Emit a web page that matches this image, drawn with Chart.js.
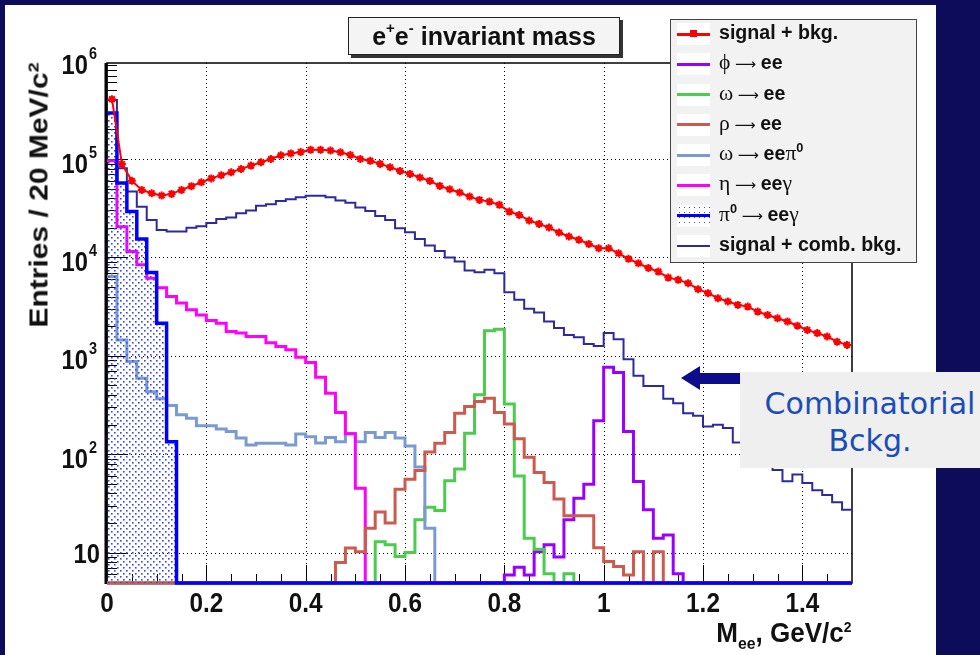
<!DOCTYPE html>
<html>
<head>
<meta charset="utf-8">
<script src="https://cdn.jsdelivr.net/npm/chart.js@4.4.1/dist/chart.umd.min.js"></script>
<style>
  html, body { margin: 0; padding: 0; }
  body { width: 980px; height: 655px; background: #0c0c5a; position: relative; overflow: hidden;
         font-family: 'Liberation Sans', Arial, sans-serif; }
  #panel { position: absolute; left: 5px; top: 5px; width: 931px; height: 650px; background: #fff; }
  #chart { position: absolute; left: 0; top: 0; }
  #title { position: absolute; left: 348px; top: 17px; width: 272px; height: 38px; box-sizing: border-box;
           background: #f4f4f4; border: 1px solid #222; box-shadow: 3px 3px 0 #333;
           font-weight: bold; font-size: 25px; line-height: 36px; text-align: center; color: #111; }
  #title sup { font-size: 15px; line-height: 0; position: relative; top: -3px; vertical-align: super; }
  #legend { position: absolute; left: 670px; top: 19px; width: 247px; height: 244px; box-sizing: border-box;
            background: #f2f2f2; border: 1.5px solid #444; }
  .row { position: relative; height: 30.3px; }
  .sample { position: absolute; left: 6px; top: 3px; width: 33px; height: 22px; background: #fff; }
  .sample .ln { position: absolute; left: 0; right: 0; top: 50%; }
  .lab { position: absolute; left: 48px; top: -3px; line-height: 30px; white-space: nowrap;
         font-weight: bold; font-size: 20px; color: #111; transform: scaleX(0.98); transform-origin: left center; }
  .gr { font-family: 'Liberation Serif', 'DejaVu Serif', serif; font-weight: normal; font-size: 22px; }
  .ar { font-family: 'DejaVu Sans', sans-serif; font-weight: normal; font-size: 15px; }
  .lab sup { font-size: 13px; line-height: 0; }
  #ytitle { position: absolute; left: 39px; top: 195px; white-space: nowrap; font-weight: bold; font-size: 25px; color: #111;
            transform: translate(-50%, -50%) rotate(-90deg) scaleX(1.2); }
  #ytitle sup, #xtitle sup { font-size: 15px; line-height: 0; }
  #xtitle { position: absolute; right: 128px; top: 617px; white-space: nowrap; font-weight: bold; font-size: 28px; color: #111;
            transform: scaleX(0.93); transform-origin: right center; }
  #xtitle sub { font-size: 17px; line-height: 0; }
  #arrow { position: absolute; left: 678px; top: 362px; }
  #note { position: absolute; left: 740px; top: 372px; width: 260px; height: 96px; background: #efefef;
          font-family: 'DejaVu Sans', sans-serif; font-size: 30px; line-height: 37px; color: #1a4db8;
          text-align: center; padding-top: 13px; box-sizing: border-box; }
</style>
</head>
<body>
<div id="panel"></div>
<canvas id="chart" width="980" height="655"></canvas>
<div id="title">e<sup>+</sup>e<sup>-</sup> invariant mass</div>
<div id="legend"></div>
<div id="ytitle">Entries / 20 MeV/c<sup>2</sup></div>
<div id="xtitle">M<sub>ee</sub>, GeV/c<sup>2</sup></div>
<svg id="arrow" width="64" height="32"><polygon points="3,16 22,4 22,11 62,11 62,22 22,22 22,28" fill="#0d0d8c"/></svg>
<div id="note">Combinatorial<br>Bckg.</div>
<script>
var BIN_WIDTH = 0.02;   // 20 MeV/c2
var N_BINS = 75;        // 0 .. 1.5 GeV/c2
var Y_MIN = 4.9;
var Y_MAX = 9.46e5;

// signal + bkg. (red markers), one value per bin
var signalBkg = [4.06e5, 8.9e4, 6.0e4, 4.85e4, 4.49e4, 4.25e4, 4.42e4, 4.85e4, 5.3e4, 5.8e4,
  6.35e4, 6.85e4, 7.34e4, 7.93e4, 8.57e4, 9.28e4, 1.0e5, 1.09e5, 1.14e5, 1.18e5,
  1.24e5, 1.24e5, 1.22e5, 1.17e5, 1.10e5, 1.0e5, 9.58e4, 8.92e4, 8.26e4, 7.57e4,
  7.06e4, 6.48e4, 5.99e4, 5.33e4, 4.93e4, 4.56e4, 4.15e4, 3.84e4, 3.69e4, 3.42e4,
  2.92e4, 2.70e4, 2.37e4, 2.19e4, 2.01e4, 1.79e4, 1.63e4, 1.51e4, 1.37e4, 1.24e4,
  1.24e4, 1.10e4, 9660, 8700, 7800, 7170, 6230, 5910, 5470, 4750,
  4330, 3850, 3560, 3290, 3160, 2810, 2600, 2410, 2230, 2020,
  1830, 1700, 1570, 1390, 1290];

// signal + comb. bkg. (thin navy histogram)
var signalComb = [3.98e5, 8.05e4, 4.67e4, 3.28e4, 2.40e4, 1.90e4, 1.83e4, 1.83e4, 2.0e4, 2.07e4,
  2.23e4, 2.46e4, 2.54e4, 2.81e4, 2.99e4, 3.34e4, 3.47e4, 3.75e4, 3.90e4, 4.09e4,
  4.22e4, 4.22e4, 4.09e4, 3.78e4, 3.60e4, 3.21e4, 2.97e4, 2.64e4, 2.40e4, 1.98e4,
  1.80e4, 1.54e4, 1.32e4, 1.16e4, 9950, 9060, 7340, 7070, 7470, 6900,
  4430, 3700, 3000, 2750, 2230, 1910, 1630, 1540, 1320, 1260,
  1700, 1470, 923, 625, 494, 494, 365, 330, 261, 245,
  191, 199, 184, 131, 116, 98, 87, 69, 53, 62,
  51, 43, 38.5, 32.5, 27.2];

// single channels: first non-empty bin + bin contents (empty elsewhere)
var pi0Start = 0;
var pi0Values = [2.93e5, 5.7e4, 2.92e4, 1.54e4, 7000, 2140, 134];
var etaStart = 0;
var etaValues = [9.6e4, 2.05e4, 1.15e4, 8400, 6150, 4900, 4000, 3430, 2930, 2600,
  2280, 2140, 1760, 1700, 1570, 1570, 1360, 1240, 1150, 968,
  853, 606, 417, 265, 161, 45];
var omegaDalitzStart = 0;
var omegaDalitzValues = [6400, 1450, 873, 592, 432, 365, 313, 251, 232, 194,
  194, 180, 170, 146, 124, 129, 129, 129, 124, 160,
  150, 130, 148, 134, 162, 134, 166, 148, 166, 146,
  121, 74, 17.7];
var omegaStart = 27;
var omegaValues = [12.9, 12.0, 9.1, 10.0, 21.5, 28.9, 26.7, 53.6, 70.5, 163,
  401, 1800, 1860, 324, 60, 14.0, 10.8, 6.1, 0, 6.1];
var rhoStart = 23;
var rhoValues = [7.9, 11.1, 10.2, 17.7, 25.8, 19.9, 44, 55.7, 68, 105,
  129, 166, 261, 305, 343, 371, 265, 202, 143, 93,
  65, 51.4, 34.9, 23.6, 23.6, 23.6, 11.2, 8.1, 7.2, 5.9,
  10.2, 0, 10.2];
var phiStart = 40;
var phiValues = [5.9, 7.1, 5.9, 10.2, 12.0, 9.0, 21.5, 35.7, 49.5, 219,
  766, 675, 170, 52.7, 27.2, 14, 15.1, 6.1];

var xTickValues = [0, 0.2, 0.4, 0.6, 0.8, 1.0, 1.2, 1.4];
var xTickLabels = ['0', '0.2', '0.4', '0.6', '0.8', '1', '1.2', '1.4'];
var yTickValues = [10, 1e2, 1e3, 1e4, 1e5, 1e6];
var yTickExponents = ['', '2', '3', '4', '5', '6'];

function fullBins(start, values) {
  var out = [];
  for (var i = 0; i < N_BINS; i++) {
    var v = values[i - start];
    out.push(v === undefined ? 0 : v);
  }
  return out;
}

// bin edges for a stepped line; empty bins sit on the bottom of the log axis
function histPoints(bins) {
  var pts = bins.map(function(v, i) {
    return { x: BIN_WIDTH * i, y: v > 0 ? v : Y_MIN };
  });
  pts.push({ x: BIN_WIDTH * bins.length, y: pts[pts.length - 1].y });
  return pts;
}

var ctx = document.getElementById('chart').getContext('2d');

var tile = document.createElement('canvas');
tile.width = 6; tile.height = 6;
var tctx = tile.getContext('2d');
tctx.fillStyle = '#3344ff';
tctx.fillRect(0, 0, 1.6, 1.6);
tctx.fillRect(3, 3, 1.6, 1.6);
var dots = ctx.createPattern(tile, 'repeat');

function hist(label, bins, color, width, order) {
  return {
    label: label, data: histPoints(bins), stepped: 'before',
    borderColor: color, borderWidth: width, pointRadius: 0, fill: false,
    clip: 6, order: order
  };
}

var pi0Set = hist('pi0', fullBins(pi0Start, pi0Values), '#0000ff', 3.5, 1);
pi0Set.fill = 'start';
pi0Set.backgroundColor = dots;

var datasets = [
  {
    label: 'signal + bkg.',
    data: signalBkg.map(function(v, i) { return { x: BIN_WIDTH * (i + 0.5), y: v }; }),
    borderColor: '#ff0000', backgroundColor: '#ff0000', borderWidth: 2,
    pointStyle: 'star', pointRadius: 4, pointBorderWidth: 2, clip: 6, order: 0
  },
  pi0Set,
  hist('comb', signalComb, '#2b2b9e', 2, 2),
  hist('rho', fullBins(rhoStart, rhoValues), '#cc5a4e', 3, 3),
  hist('eta', fullBins(etaStart, etaValues), '#ff00ff', 3, 4),
  hist('omegaDalitz', fullBins(omegaDalitzStart, omegaDalitzValues), '#7a9bd2', 3, 5),
  hist('omega', fullBins(omegaStart, omegaValues), '#4ccc4c', 3, 6),
  hist('phi', fullBins(phiStart, phiValues), '#9a00ff', 3, 7)
];

function isMultiple(v, step) {
  return Math.abs(v / step - Math.round(v / step)) < 1e-6;
}

function line(c, x1, y1, x2, y2) {
  c.beginPath(); c.moveTo(x1, y1); c.lineTo(x2, y2); c.stroke();
}

function narrowText(c, text, x, y, sx) {
  c.save(); c.translate(x, y); c.scale(sx, 1); c.fillText(text, 0, 0); c.restore();
}

var rootAxes = {
  id: 'rootAxes',
  beforeDatasetsDraw: function(chart) {
    var c = chart.ctx, a = chart.chartArea, xs = chart.scales.x, ys = chart.scales.y;
    c.save();
    c.strokeStyle = '#000';
    c.lineWidth = 1;
    c.setLineDash([1, 3]);
    xTickValues.forEach(function(v) {
      if (v <= 0) return;
      var px = Math.round(xs.getPixelForValue(v)) + 0.5;
      line(c, px, a.top, px, a.bottom);
    });
    yTickValues.forEach(function(v) {
      if (v > Y_MAX) return;
      var py = Math.round(ys.getPixelForValue(v)) + 0.5;
      line(c, a.left, py, a.right, py);
    });
    c.setLineDash([]);
    // x ticks every 50 MeV, long ones every 200 MeV
    for (var k = 1; k < 30; k++) {
      var xv = k * 0.05;
      var px = Math.round(xs.getPixelForValue(xv)) + 0.5;
      line(c, px, a.bottom, px, a.bottom - (isMultiple(xv, 0.2) ? 18 : 9));
    }
    // y ticks 1..9 x 10^n
    for (var d = 0; d < 6; d++) {
      for (var m = 1; m < 10; m++) {
        var yv = m * Math.pow(10, d);
        if (yv < Y_MIN || yv > Y_MAX) continue;
        var py = Math.round(ys.getPixelForValue(yv)) + 0.5;
        line(c, a.left, py, a.left + (m === 1 ? 20 : 10), py);
      }
    }
    c.lineWidth = 1.5;
    c.strokeRect(a.left, a.top, a.right - a.left, a.bottom - a.top);
    c.lineWidth = 3;
    line(c, a.left - 1, a.top, a.left - 1, a.bottom + 1);
    c.restore();
  },
  afterDraw: function(chart) {
    var c = chart.ctx, a = chart.chartArea, xs = chart.scales.x, ys = chart.scales.y;
    c.save();
    c.fillStyle = '#111';
    c.textBaseline = 'middle';
    c.font = 'bold 28px "Liberation Sans", Arial, sans-serif';
    c.textAlign = 'center';
    xTickValues.forEach(function(v, i) {
      narrowText(c, xTickLabels[i], xs.getPixelForValue(v), a.bottom + 21, 0.87);
    });
    yTickValues.forEach(function(v, i) {
      var py = ys.getPixelForValue(v);
      c.font = 'bold 28px "Liberation Sans", Arial, sans-serif';
      if (yTickExponents[i] === '') {
        c.textAlign = 'right';
        narrowText(c, '10', a.left - 7, py + 3, 0.85);
      } else {
        c.textAlign = 'right';
        narrowText(c, '10', a.left - 19, py + 6, 0.85);
        c.font = 'bold 17px "Liberation Sans", Arial, sans-serif';
        c.textAlign = 'left';
        narrowText(c, yTickExponents[i], a.left - 18, py - 6, 0.85);
      }
    });
    c.restore();
  }
};

new Chart(ctx, {
  type: 'line',
  data: { datasets: datasets },
  options: {
    responsive: false,
    animation: false,
    devicePixelRatio: 1,
    layout: { padding: { left: 107, right: 128, top: 63, bottom: 72 } },
    plugins: { legend: { display: false }, tooltip: { enabled: false } },
    scales: {
      x: {
        type: 'linear', min: 0, max: 1.5,
        ticks: { display: false },
        grid: { display: false, drawTicks: false },
        border: { display: false }
      },
      y: {
        type: 'logarithmic', min: Y_MIN, max: Y_MAX,
        ticks: { display: false },
        grid: { display: false, drawTicks: false },
        border: { display: false }
      }
    }
  },
  plugins: [rootAxes]
});

// legend box (ROOT style), same colours as the datasets
var arrowHtml = '<span class="ar"> &#10230; </span>';
var legendItems = [
  { html: 'signal + bkg.', color: '#ff0000', width: 3, marker: true },
  { html: '<span class="gr">&#981;</span>' + arrowHtml + 'ee', color: '#9a00ff', width: 3 },
  { html: '<span class="gr">&omega;</span>' + arrowHtml + 'ee', color: '#4ccc4c', width: 3 },
  { html: '<span class="gr">&rho;</span>' + arrowHtml + 'ee', color: '#cc5a4e', width: 3 },
  { html: '<span class="gr">&omega;</span>' + arrowHtml + 'ee<span class="gr">&pi;</span><sup>0</sup>', color: '#7a9bd2', width: 3 },
  { html: '<span class="gr">&eta;</span>' + arrowHtml + 'ee<span class="gr">&gamma;</span>', color: '#ff00ff', width: 3 },
  { html: '<span class="gr">&pi;</span><sup>0</sup>' + arrowHtml + 'ee<span class="gr">&gamma;</span>', color: '#0000ff', width: 3.5, dots: true },
  { html: 'signal + comb. bkg.', color: '#2b2b9e', width: 2 }
];

var legend = document.getElementById('legend');
legendItems.forEach(function(item) {
  var bg = item.dots ? 'background-image: radial-gradient(#3344ff 0.8px, transparent 1px); background-size: 5px 5px;' : '';
  var mark = item.marker ? '<div style="position:absolute;left:13px;top:7px;width:7px;height:7px;background:' + item.color + ';"></div>' : '';
  legend.insertAdjacentHTML('beforeend',
    '<div class="row"><div class="sample" style="' + bg + '">' +
    '<div class="ln" style="border-top:' + item.width + 'px solid ' + item.color + ';margin-top:-' + (item.width / 2) + 'px"></div>' + mark +
    '</div><div class="lab">' + item.html + '</div></div>');
});
</script>
</body>
</html>
